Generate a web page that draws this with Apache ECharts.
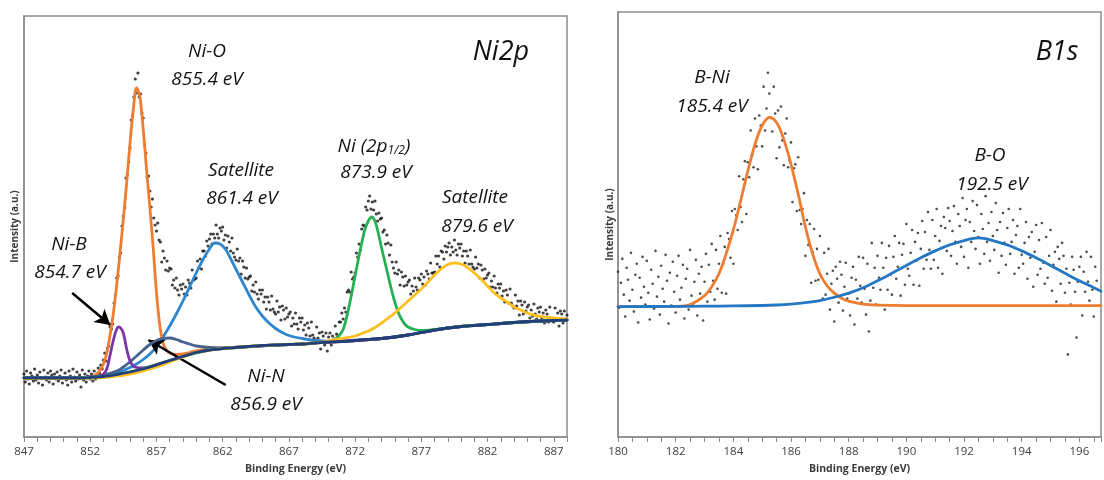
<!DOCTYPE html>
<html><head><meta charset="utf-8">
<script src="https://cdn.jsdelivr.net/npm/echarts@6/dist/echarts.min.js"></script>
<style>html,body{margin:0;padding:0;background:#fff}#c{width:1104px;height:480px}</style>
</head><body><div id="c"></div>
<script>
// ---------- Ni2p panel ----------
const ni2pStart = 847, ni2pStep = 0.1;
const ni2pCounts = [
63,55,66,58,53,64,61,56,68,57,
62,54,65,59,52,67,60,57,64,55,
66,62,53,63,58,65,56,61,67,54,
59,64,57,52,66,61,55,68,60,56,
65,58,62,50,67,57,63,55,61,66,
58,63,56,66,58,60,69,64,72,68,
77,84,76,89,91,110,108,113,134,142,
159,161,180,184,211,221,229,259,262,275,
289,317,321,340,358,344,364,340,343,324,
319,293,284,260,261,246,230,238,219,212,
206,214,197,195,175,186,179,167,176,166,
169,168,152,157,149,159,147,142,152,148,
153,143,150,142,157,154,149,167,157,158,
159,176,169,178,168,186,186,181,196,191,
198,203,193,203,199,212,203,199,209,206,
210,197,202,189,201,195,186,199,184,180,
177,188,176,179,163,176,170,159,169,158,
160,161,146,152,145,155,143,138,147,143,
147,135,140,128,140,135,127,141,128,125,
123,136,125,130,117,131,127,118,129,120,
123,125,111,119,113,124,113,108,119,115,
119,107,112,102,114,109,101,115,102,99,
97,110,99,104,88,105,101,92,104,86,
100,104,92,101,98,111,103,101,115,115,
124,118,129,125,145,147,145,165,158,160,
164,184,180,193,187,208,212,211,230,227,
236,241,228,235,227,236,223,216,224,218,
219,205,207,193,202,194,182,192,175,169,
164,175,163,167,152,165,160,151,161,152,
155,157,143,151,146,159,150,147,159,157,
163,153,160,152,166,163,158,174,164,164,
165,181,173,181,170,186,185,178,191,185,
190,194,182,190,185,197,187,182,193,189,
193,181,186,174,186,181,173,187,173,170,
168,180,169,173,159,172,167,158,168,159,
162,164,150,156,150,161,149,144,153,149,
153,141,146,135,147,142,134,148,134,131,
129,142,131,136,122,136,132,123,135,126,
130,132,119,127,121,133,123,118,129,125,
130,119,124,114,127,123,115,130,118,116,
115,129,118,124,111,126,123,114,126,118,
122
];
const ni2pBackground = [[847,59],[851,59],[852,59.5],[853,60.5],[854,62.5],[855,65],[856,68],[857,72],[858,76.5],[859,80.5],[860,84.5],[861,87],[862,88.5],[863,89.5],[864,90.5],[865,91.5],[866,92],[867,92.5],[868,93],[869,94],[870,95],[871,95.5],[872,96.5],[873,97.5],[874,98.5],[875,100],[876,102],[877,104.5],[878,107],[879,109],[880,110.5],[881,111.5],[882,112.5],[883,113.5],[884,114.5],[885,115.5],[886,116],[887,116.5],[888,117]];
const ni2pNiO = [[847,59],[851,59],[852,60],[852.5,63],[852.75,67],[853,73],[853.25,84],[853.5,102],[853.75,124],[854,152],[854.25,184],[854.5,218],[854.75,254],[855,293],[855.25,327],[855.5,349],[855.75,340],[856,308],[856.25,268],[856.5,230],[856.75,190],[857,145],[857.25,112],[857.5,94],[857.75,87],[858,84],[858.5,82.5],[859,83],[859.5,84.5],[860,86],[861,88],[862,89],[863,89.8],[864,90.5],[866,92],[868,93],[870,95],[872,96.5],[874,98.5],[876,102],[878,107],[880,110.5],[882,112.5],[884,114.5],[886,116],[888,117]];
const ni2pNiB = [[847,59],[851,59],[852,60],[852.5,60.5],[853,63],[853.25,68],[853.5,82],[853.75,97],[854,108],[854.15,110],[854.3,109],[854.5,104],[854.75,88],[855,76],[855.25,71],[855.5,69.5],[856,69],[857,72.5],[858,76.5],[859,80.5],[860,84.5],[861,87],[862,88.5],[864,90.5],[866,92],[868,93],[870,95],[872,96.5],[874,98.5],[876,102],[878,107],[880,110.5],[882,112.5],[884,114.5],[886,116],[888,117]];
const ni2pNiN = [[847,59],[851,59],[852,60],[853,62],[854,66],[854.5,70],[855,75],[855.5,81],[856,87],[856.5,92.5],[857,96.5],[857.5,98.5],[858,99],[858.5,97.5],[859,95],[859.5,93],[860,91],[861,89.5],[862,89],[863,89.7],[864,90.5],[866,92],[868,93],[870,95],[872,96.5],[874,98.5],[876,102],[878,107],[880,110.5],[882,112.5],[884,114.5],[886,116],[888,117]];
const ni2pSat1 = [[847,59],[851,59],[852,60],[853,61.5],[854,64],[854.5,66.5],[855,69.5],[855.5,73],[856,77.5],[856.5,83],[857,90],[857.5,100],[858,111],[858.5,123],[859,136],[859.5,150],[860,164],[860.5,177],[861,188],[861.4,194],[861.8,193],[862.2,188],[862.5,181],[863,168],[863.5,155],[864,142],[864.5,130],[865,121],[865.5,114],[866,108.5],[866.5,104.5],[867,101.5],[868,98.5],[869,96.5],[870,95.7],[871,96],[872,96.8],[874,98.5],[876,102],[878,107],[880,110.5],[882,112.5],[884,114.5],[886,116],[888,117]];
const ni2pNi2p12 = [[847,59],[851,59],[853,60.5],[855,65],[857,72],[859,80.5],[861,87],[863,89.5],[865,91.5],[867,92.5],[869,94],[870,95.5],[870.5,98],[871,105],[871.25,114],[871.5,128],[871.75,144],[872,161],[872.25,178],[872.5,194],[872.75,208],[873,216],[873.25,220],[873.5,216],[873.75,204],[874,189],[874.25,175],[874.5,161],[874.75,147],[875,135],[875.25,125],[875.5,118],[875.75,113],[876,110],[876.5,107.5],[877,106.5],[878,107.5],[879,109],[880,110.5],[882,112.5],[884,114.5],[886,116],[888,117]];
const ni2pSat2 = [[847,58.5],[851,58.5],[852,59],[853,59.5],[854,61],[855,63],[856,66],[857,70],[858,75],[859,80],[860,84.5],[861,87],[863,89.5],[865,91.5],[867,92.5],[869,94],[870,96],[870.5,97.5],[871,98.5],[871.5,99.5],[872,101],[872.5,103.5],[873,106],[873.5,109.5],[874,114],[874.5,119],[875,124],[875.5,130],[876,136],[876.5,142],[877,148],[877.5,155],[878,162],[878.5,168],[879,172.5],[879.5,174],[880,173],[880.5,169.5],[881,164],[881.5,158],[882,151],[882.5,144],[883,139],[883.5,135],[884,130],[884.5,127],[885,124],[885.5,122],[886,120.5],[887,119],[888,118]];
const ni2pTickLabels = [847,852,857,862,867,872,877,882,887];

// ---------- B1s panel ----------
const b1sStart = 180, b1sStep = 0.05;
const b1sCounts = [
166,130,155,179,143,121,170,158,137,185,148,126,163,174,115,160,140,181,151,133,
177,145,118,168,154,129,187,141,161,123,172,149,136,183,157,114,165,132,176,146,
125,162,182,138,150,173,119,159,169,128,188,142,134,156,178,122,164,144,171,117,
156,184,136,173,146,194,157,138,188,149,174,202,145,174,191,144,205,199,180,227,
174,229,223,208,262,231,216,259,277,224,276,261,308,283,271,320,292,269,323,313,
292,352,308,330,366,345,321,307,352,325,280,328,291,332,298,273,305,320,271,278,
296,236,270,274,227,281,228,214,229,245,182,218,193,214,155,186,209,157,189,158,
202,161,139,185,143,164,189,128,154,167,116,171,159,135,176,163,127,151,175,139,
144,122,160,171,113,158,139,181,152,135,180,149,123,174,106,137,195,150,170,133,
182,160,148,195,170,128,180,148,192,163,143,181,202,159,171,195,142,183,194,153,
214,169,162,185,208,153,196,177,205,152,189,217,169,206,178,226,188,169,218,178,
202,229,170,197,212,164,221,210,187,230,217,182,207,232,196,174,224,212,191,240,
181,218,229,170,216,196,237,207,189,233,201,174,224,209,184,242,196,215,177,226,
202,188,235,208,165,216,182,225,195,173,210,229,184,196,218,164,203,212,170,229,
183,174,195,216,159,201,180,206,151,186,213,163,198,169,215,175,154,201,160,182,
208,147,173,186,136,191,179,154,195,182,145,169,83,155,133,181,168,146,100,156,
171,181,122,166,146,186,156,137,181,148,121,171,157
];
const b1sBNi = [[180,131],[181,131],[182,131.2],[182.5,133],[183,142],[183.25,151],[183.5,164],[183.75,184],[184,208],[184.25,237],[184.5,267],[184.75,294],[185,313],[185.25,321],[185.5,316],[185.75,299],[186,274],[186.25,244],[186.5,211],[186.75,184],[187,164],[187.25,152],[187.5,144.5],[187.75,139.5],[188,136.5],[188.5,133.5],[189,132.5],[190,132],[192,132],[194,132],[196.75,132]];
const b1sBO = [[180,131],[182,131.2],[183,131.4],[184,131.7],[185,132.1],[185.5,132.6],[186,133.5],[186.5,134.9],[187,137],[187.5,140.4],[188,144.6],[188.5,150],[189,157],[189.5,164.6],[190,172.4],[190.5,180],[191,187],[191.5,193],[192,197.4],[192.5,200],[193,197.4],[193.5,193],[194,187],[194.5,180],[195,172.4],[195.5,164.6],[196,157],[196.5,150],[196.75,146.5]];
const b1sTickLabels = [180,182,184,186,188,190,192,194,196];

// ---------- build ----------
function toPoints(start, step, counts, dec) {
  return counts.map((v, i) => [+(start + i * step).toFixed(dec), v]);
}
const ni2pPoints = toPoints(ni2pStart, ni2pStep, ni2pCounts, 1);
const b1sPoints = toPoints(b1sStart, b1sStep, b1sCounts, 2);

const axisGray = '#8c8c8c';
const tickFont = '"Open Sans", "DejaVu Sans", sans-serif';
function isLabel(list, v) { return list.some(t => Math.abs(t - v) < 1e-6); }

function xAxisCfg(gi, min, max, interval, labels) {
  return {
    type: 'value', gridIndex: gi, min: min, max: max, interval: interval,
    axisLine: { show: true, lineStyle: { color: axisGray, width: 1.5 } },
    axisTick: { show: true, length: 5, lineStyle: { color: axisGray, width: 1 } },
    axisLabel: { show: true, margin: 9, color: '#404040', fontFamily: tickFont, fontSize: 11.5,
      formatter: v => isLabel(labels, v) ? String(Math.round(v)) : '' },
    splitLine: { show: false },
    name: 'Binding Energy (eV)', nameLocation: 'middle', nameGap: 27,
    nameTextStyle: { fontFamily: tickFont, fontWeight: 'bold', fontSize: 10.5, color: '#3a3a3a' }
  };
}
function yAxisCfg(gi, max, gap) {
  return {
    type: 'value', gridIndex: gi, min: 0, max: max,
    axisLine: { show: true, lineStyle: { color: axisGray, width: 1.5 } },
    axisTick: { show: false }, axisLabel: { show: false }, splitLine: { show: false },
    name: 'Intensity (a.u.)', nameLocation: 'middle', nameGap: gap, nameRotate: 90,
    nameTextStyle: { fontFamily: tickFont, fontWeight: 'bold', fontSize: 10, color: '#3a3a3a' }
  };
}
function lineSeries(name, data, color, axis, z, width) {
  return { name: name, type: 'line', xAxisIndex: axis, yAxisIndex: axis, data: data,
    showSymbol: false, smooth: 0.35, z: z, silent: true,
    lineStyle: { color: color, width: width || 2.8, join: 'round', cap: 'round' } };
}

const lab = 'italic 19px "Open Sans", sans-serif';
function txt(x, y, s, font, extra) {
  return Object.assign({ type: 'text', x: x, y: y, z: 100, silent: true,
    style: { text: s, font: font || lab, fill: '#111', align: 'center', verticalAlign: 'middle' } }, extra || {});
}

const option = {
  animation: false,
  backgroundColor: '#fff',
  grid: [
    { left: 24, top: 16, width: 543, height: 421, show: true, borderColor: axisGray, borderWidth: 1.5, backgroundColor: 'transparent' },
    { left: 618, top: 12, width: 490, height: 427, show: true, borderColor: axisGray, borderWidth: 1.5, backgroundColor: 'transparent' }
  ],
  xAxis: [ xAxisCfg(0, 847, 888, 1, ni2pTickLabels), xAxisCfg(1, 180, 196.75, 0.5, b1sTickLabels) ],
  yAxis: [ yAxisCfg(0, 421, 4), yAxisCfg(1, 427, 3) ],
  series: [
    { type: 'scatter', xAxisIndex: 0, yAxisIndex: 0, data: ni2pPoints, symbolSize: 3.2, z: 1, silent: true,
      itemStyle: { color: '#111' },
      markLine: { silent: true, symbol: ['none', 'arrow'], symbolSize: [13, 15], animation: false,
        label: { show: false }, lineStyle: { color: '#000', width: 2.5, type: 'solid' },
        data: [
          [{ coord: [850.64, 144] }, { coord: [853.52, 112] }],
          [{ coord: [862.23, 52] }, { coord: [856.39, 97] }]
        ] } },
    lineSeries('Satellite 861.4', ni2pSat1, '#2e86cf', 0, 3),
    lineSeries('Ni-O', ni2pNiO, '#ee7d31', 0, 4),
    lineSeries('Ni-N', ni2pNiN, '#46638f', 0, 5),
    lineSeries('Ni-B', ni2pNiB, '#7a35a8', 0, 6),
    lineSeries('Ni 2p1/2', ni2pNi2p12, '#25b054', 0, 6),
    lineSeries('Satellite 879.6', ni2pSat2, '#ffbf1f', 0, 7),
    lineSeries('Background', ni2pBackground, '#213f78', 0, 8),
    { type: 'scatter', xAxisIndex: 1, yAxisIndex: 1, data: b1sPoints, symbolSize: 2.6, z: 1, silent: true,
      itemStyle: { color: '#222' } },
    lineSeries('B-Ni', b1sBNi, '#ee7d31', 1, 4),
    lineSeries('B-O', b1sBO, '#2478c3', 1, 5)
  ],
  graphic: [
    txt(207, 52, 'Ni-O'), txt(207, 80, '855.4 eV'),
    txt(241, 171, 'Satellite'), txt(242, 199, '861.4 eV'),
    txt(374, 147, 'Ni (2p{s|1/2})', null, { style: { text: 'Ni (2p{s|1/2})', font: lab, fill: '#111', align: 'center', verticalAlign: 'middle',
      rich: { s: { font: 'italic 12px "Open Sans", sans-serif', fill: '#111', verticalAlign: 'bottom', lineHeight: 14 } } } }),
    txt(376, 173, '873.9 eV'),
    txt(475, 198, 'Satellite'), txt(477, 227, '879.6 eV'),
    txt(69, 245, 'Ni-B'), txt(70, 273, '854.7 eV'),
    txt(266, 377, 'Ni-N'), txt(266, 405, '856.9 eV'),
    txt(501, 52, 'Ni2p', 'italic 27px "Open Sans", sans-serif'),
    txt(712, 78, 'B-Ni'), txt(712, 107, '185.4 eV'),
    txt(990, 156, 'B-O'), txt(992, 185, '192.5 eV'),
    txt(1057, 52, 'B1s', 'italic 27px "Open Sans", sans-serif')
  ]
};
const chart = echarts.init(document.getElementById('c'), null, { renderer: 'canvas' });
chart.setOption(option);
</script></body></html>
